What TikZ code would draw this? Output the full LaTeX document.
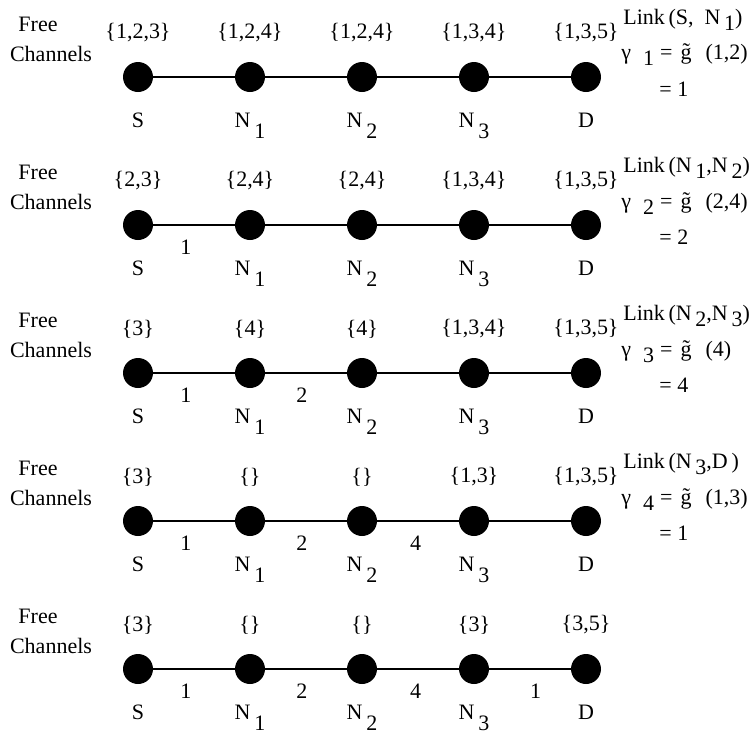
\documentclass[tikz,border=0pt]{standalone}
\usepackage{fontspec}
\setmainfont{Liberation Serif}
\usepackage{tikz}
\newcommand{\dropi}[1]{\raisebox{-0.3em}{#1}}  % lowered index in the notes
\newcommand{\dropn}[1]{\raisebox{-0.5em}{#1}}  % lowered index under the nodes
\newcommand{\gline}[2]{γ\hspace{6pt}\dropi{#1}\hspace{3pt}=\hspace{4pt}\~g\hspace{7pt}(#2)}
\tikzset{
  hop/.style={circle,fill=black,inner sep=0pt,minimum size=15pt},
  link/.style={line width=0.6pt},
  freelbl/.style={inner sep=0pt},
  chanset/.style={inner sep=0pt},
  hoplbl/.style={inner sep=0pt,anchor=base},
  hopnum/.style={inner sep=0pt,below=7pt},
  note/.style={inner sep=0pt,anchor=base west},
}
\begin{document}
\begin{tikzpicture}[x=0.5pt,y=-0.5pt,font=\fontsize{11}{13}\selectfont]
  \useasboundingbox (0,0) rectangle (752,734);
  % ---- row A: nothing assigned yet
  \node[freelbl] (frA) at (38,24) {Free};
  \node[freelbl] (chA) at (51,54) {Channels};
  \node[hop] (sA) at (138,77) {};
  \node[hop] (n1A) at (250,77) {};
  \node[hop] (n2A) at (362,77) {};
  \node[hop] (n3A) at (474,77) {};
  \node[hop] (dA) at (586,77) {};
  \node[chanset] (csA) at (138,33) {\{1,2,3\}};
  \node[chanset] (c1A) at (250,33) {\{1,2,4\}};
  \node[chanset] (c2A) at (362,33) {\{1,2,4\}};
  \node[chanset] (c3A) at (474,33) {\{1,3,4\}};
  \node[chanset] (cdA) at (586,33) {\{1,3,5\}};
  \draw[link] (sA) -- (n1A);
  \draw[link] (n1A) -- (n2A);
  \draw[link] (n2A) -- (n3A);
  \draw[link] (n3A) -- (dA);
  \node[hoplbl] (lsA) at (138,127) {S};
  \node[hoplbl] (l1A) at (250,127) {N\,\dropn{1}};
  \node[hoplbl] (l2A) at (362,127) {N\,\dropn{2}};
  \node[hoplbl] (l3A) at (474,127) {N\,\dropn{3}};
  \node[hoplbl] (ldA) at (586,127) {D};
  \node[note] (lkA) at (623,24) {Link\,(S,\ \ N\,\dropi{1})};
  \node[note] (gA) at (621,59) {\gline{1}{1,2}};
  \node[note] (vA) at (659,96) {= 1};
  % ---- row B: S--N1 on channel 1
  \node[freelbl] (frB) at (38,172) {Free};
  \node[freelbl] (chB) at (51,202) {Channels};
  \node[hop] (sB) at (138,225) {};
  \node[hop] (n1B) at (250,225) {};
  \node[hop] (n2B) at (362,225) {};
  \node[hop] (n3B) at (474,225) {};
  \node[hop] (dB) at (586,225) {};
  \node[chanset] (csB) at (138,181) {\{2,3\}};
  \node[chanset] (c1B) at (250,181) {\{2,4\}};
  \node[chanset] (c2B) at (362,181) {\{2,4\}};
  \node[chanset] (c3B) at (474,181) {\{1,3,4\}};
  \node[chanset] (cdB) at (586,181) {\{1,3,5\}};
  \draw[link] (sB) -- node[hopnum,pos=0.4] {1} (n1B);
  \draw[link] (n1B) -- (n2B);
  \draw[link] (n2B) -- (n3B);
  \draw[link] (n3B) -- (dB);
  \node[hoplbl] (lsB) at (138,275) {S};
  \node[hoplbl] (l1B) at (250,275) {N\,\dropn{1}};
  \node[hoplbl] (l2B) at (362,275) {N\,\dropn{2}};
  \node[hoplbl] (l3B) at (474,275) {N\,\dropn{3}};
  \node[hoplbl] (ldB) at (586,275) {D};
  \node[note] (lkB) at (623,172) {Link\,(N\,\dropi{1},N\,\dropi{2})};
  \node[note] (gB) at (621,208) {\gline{2}{2,4}};
  \node[note] (vB) at (659,244) {= 2};
  % ---- row C: N1--N2 on channel 2
  \node[freelbl] (frC) at (38,320) {Free};
  \node[freelbl] (chC) at (51,350) {Channels};
  \node[hop] (sC) at (138,373) {};
  \node[hop] (n1C) at (250,373) {};
  \node[hop] (n2C) at (362,373) {};
  \node[hop] (n3C) at (474,373) {};
  \node[hop] (dC) at (586,373) {};
  \node[chanset] (csC) at (138,329) {\{3\}};
  \node[chanset] (c1C) at (250,329) {\{4\}};
  \node[chanset] (c2C) at (362,329) {\{4\}};
  \node[chanset] (c3C) at (474,329) {\{1,3,4\}};
  \node[chanset] (cdC) at (586,329) {\{1,3,5\}};
  \draw[link] (sC) -- node[hopnum,pos=0.4] {1} (n1C);
  \draw[link] (n1C) -- node[hopnum,pos=0.45] {2} (n2C);
  \draw[link] (n2C) -- (n3C);
  \draw[link] (n3C) -- (dC);
  \node[hoplbl] (lsC) at (138,423) {S};
  \node[hoplbl] (l1C) at (250,423) {N\,\dropn{1}};
  \node[hoplbl] (l2C) at (362,423) {N\,\dropn{2}};
  \node[hoplbl] (l3C) at (474,423) {N\,\dropn{3}};
  \node[hoplbl] (ldC) at (586,423) {D};
  \node[note] (lkC) at (623,320) {Link\,(N\,\dropi{2},N\,\dropi{3})};
  \node[note] (gC) at (621,356) {\gline{3}{4}};
  \node[note] (vC) at (659,392) {= 4};
  % ---- row D: N2--N3 on channel 4
  \node[freelbl] (frD) at (38,468) {Free};
  \node[freelbl] (chD) at (51,498) {Channels};
  \node[hop] (sD) at (138,521) {};
  \node[hop] (n1D) at (250,521) {};
  \node[hop] (n2D) at (362,521) {};
  \node[hop] (n3D) at (474,521) {};
  \node[hop] (dD) at (586,521) {};
  \node[chanset] (csD) at (138,477) {\{3\}};
  \node[chanset] (c1D) at (250,477) {\{\}};
  \node[chanset] (c2D) at (362,477) {\{\}};
  \node[chanset] (c3D) at (474,477) {\{1,3\}};
  \node[chanset] (cdD) at (586,477) {\{1,3,5\}};
  \draw[link] (sD) -- node[hopnum,pos=0.4] {1} (n1D);
  \draw[link] (n1D) -- node[hopnum,pos=0.45] {2} (n2D);
  \draw[link] (n2D) -- node[hopnum,pos=0.47] {4} (n3D);
  \draw[link] (n3D) -- (dD);
  \node[hoplbl] (lsD) at (138,571) {S};
  \node[hoplbl] (l1D) at (250,571) {N\,\dropn{1}};
  \node[hoplbl] (l2D) at (362,571) {N\,\dropn{2}};
  \node[hoplbl] (l3D) at (474,571) {N\,\dropn{3}};
  \node[hoplbl] (ldD) at (586,571) {D};
  \node[note] (lkD) at (623,468) {Link\,(N\,\dropi{3},D\,)};
  \node[note] (gD) at (621,504) {\gline{4}{1,3}};
  \node[note] (vD) at (659,540) {= 1};
  % ---- row E: whole route assigned
  \node[freelbl] (frE) at (38,616) {Free};
  \node[freelbl] (chE) at (51,646) {Channels};
  \node[hop] (sE) at (138,669) {};
  \node[hop] (n1E) at (250,669) {};
  \node[hop] (n2E) at (362,669) {};
  \node[hop] (n3E) at (474,669) {};
  \node[hop] (dE) at (586,669) {};
  \node[chanset] (csE) at (138,625) {\{3\}};
  \node[chanset] (c1E) at (250,625) {\{\}};
  \node[chanset] (c2E) at (362,625) {\{\}};
  \node[chanset] (c3E) at (474,625) {\{3\}};
  \node[chanset] (cdE) at (586,625) {\{3,5\}};
  \draw[link] (sE) -- node[hopnum,pos=0.4] {1} (n1E);
  \draw[link] (n1E) -- node[hopnum,pos=0.45] {2} (n2E);
  \draw[link] (n2E) -- node[hopnum,pos=0.47] {4} (n3E);
  \draw[link] (n3E) -- node[hopnum,pos=0.57] {1} (dE);
  \node[hoplbl] (lsE) at (138,719) {S};
  \node[hoplbl] (l1E) at (250,719) {N\,\dropn{1}};
  \node[hoplbl] (l2E) at (362,719) {N\,\dropn{2}};
  \node[hoplbl] (l3E) at (474,719) {N\,\dropn{3}};
  \node[hoplbl] (ldE) at (586,719) {D};
\end{tikzpicture}
\end{document}
